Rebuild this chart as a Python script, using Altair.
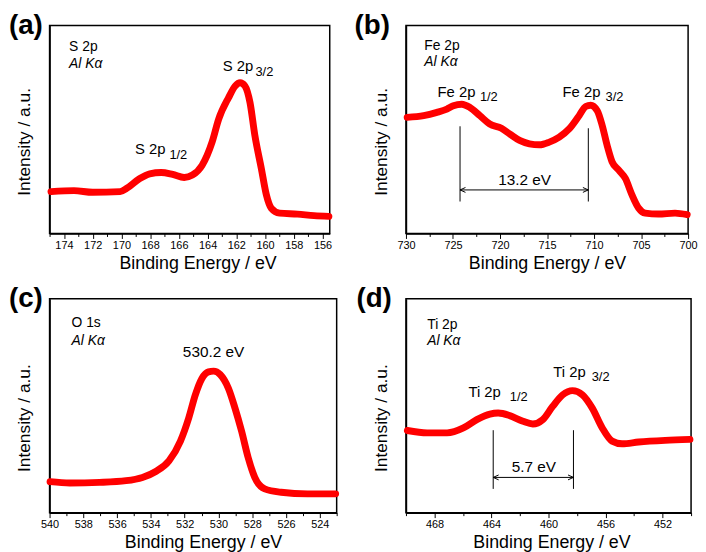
import altair as alt
import pandas as pd

FONT = "Liberation Sans"
RED = "#ff0000"

# ---------------- (a) S 2p ----------------
A_BE = [174.9, 173.3, 172.0, 170.09, 169.63, 168.72, 168.03, 167.23, 166.43, 165.63, 165.06,
        164.38, 163.69, 163.23, 162.54, 162.08, 161.74, 161.40, 161.05, 160.71, 160.26, 159.91,
        159.57, 158.99, 157.74, 156.59, 155.56]
A_INT = [42.3, 43.3, 41.6, 42.3, 45.6, 55.6, 60.3, 61.6, 59.6, 56.6, 59.0,
         69.0, 92.3, 115.6, 137.3, 149.0, 152.3, 149.0, 132.3, 99.0, 65.6, 39.0,
         25.6, 20.6, 19.6, 18.0, 17.3]
A_TICKS = list(range(175, 155, -1))
A_LABELS = [  # x, y, text, size, italic
    (173.64, 184.0, "S 2p", 14, False),
    (173.64, 167.3, "Al Kα", 14, True),
    (169.06, 80.6, "S 2p", 15, False),
    (166.66, 75.6, "1/2", 13, False),
    (162.95, 164.0, "S 2p", 15, False),
    (160.67, 159.0, "3/2", 13, False),
]

# ---------------- (b) Fe 2p ----------------
B_BE = [729.87, 728.12, 726.71, 725.65, 724.96, 724.07, 723.2, 722.14, 721.09, 719.85, 718.98,
        717.92, 716.87, 715.81, 714.76, 713.70, 712.65, 711.59, 710.89, 710.36, 709.66, 709.13,
        708.61, 708.08, 707.37, 706.67, 705.97, 705.26, 704.56, 703.15, 701.39, 700.1]
B_INT = [117.3, 119.0, 122.3, 125.6, 129.0, 130.6, 127.3, 119.0, 110.6, 106.3, 100.6,
         94.0, 90.6, 89.6, 92.3, 97.3, 105.6, 119.0, 128.3, 129.6, 124.0, 109.0,
         89.0, 72.3, 64.0, 55.6, 39.0, 25.6, 20.6, 19.6, 20.6, 19.0]
B_TICKS = [730 - 2.5 * i for i in range(13)]
B_LABELS = [
    (728.05, 185.6, "Fe 2p", 14, False),
    (728.05, 169.0, "Al Kα", 14, True),
    (726.65, 138.0, "Fe 2p", 15, False),
    (722.14, 134.0, "1/2", 13, False),
    (713.35, 138.0, "Fe 2p", 15, False),
    (708.78, 134.0, "3/2", 13, False),
]
B_CENTER_LABELS = [(717.39, 49.3, "13.2 eV", 15.5)]
B_SEGS = [(724.25, 108.3, 724.25, 32.3), (710.61, 106.3, 710.61, 32.3), (724.25, 44.0, 710.61, 44.0)]
B_ARROWS = [(724.25, 44.0, "left"), (710.61, 44.0, "right")]

# ---------------- (c) O 1s ----------------
C_BE = [539.97, 538.8, 537.04, 535.47, 534.5, 533.71, 532.93, 532.25, 531.76, 531.37, 530.98,
        530.59, 530.29, 529.9, 529.41, 529.02, 528.63, 528.24, 527.85, 527.26, 526.29, 524.72, 523.06]
C_INT = [31.3, 30.0, 30.6, 32.3, 35.6, 41.6, 52.3, 72.3, 95.6, 119.0, 135.6,
         142.3, 143.0, 139.6, 125.6, 105.6, 82.3, 55.6, 35.6, 24.0, 20.6, 19.0, 19.0]
C_TICKS = list(range(540, 522, -1))
C_LABELS = [
    (538.7, 187.3, "O 1s", 14, False),
    (538.7, 169.0, "Al Kα", 14, True),
]
C_CENTER_LABELS = [(530.29, 157.3, "530.2 eV", 15.5)]

# ---------------- (d) Ti 2p ----------------
D_BE = [469.9, 468.51, 467.12, 465.97, 465.03, 464.11, 463.53, 462.72, 461.79, 461.1, 460.4,
        459.71, 459.01, 458.32, 457.62, 456.93, 456.23, 455.54, 454.84, 453.68, 451.82, 450.08]
D_INT = [83.0, 80.6, 80.6, 85.6, 94.0, 99.6, 100.6, 98.0, 92.3, 89.6, 94.0,
         107.3, 119.0, 123.3, 119.0, 105.6, 85.6, 72.3, 69.6, 71.3, 73.0, 74.0]
D_TICKS = list(range(470, 449, -2))
D_LABELS = [
    (468.51, 185.6, "Ti 2p", 14, False),
    (468.51, 169.0, "Al Kα", 14, True),
    (465.62, 117.3, "Ti 2p", 15, False),
    (462.72, 113.0, "1/2", 13, False),
    (459.66, 137.3, "Ti 2p", 15, False),
    (456.97, 133.3, "3/2", 13, False),
]
D_CENTER_LABELS = [(461.03, 41.3, "5.7 eV", 15.5)]
D_SEGS = [(463.88, 83.3, 463.88, 24.0), (458.25, 83.3, 458.25, 24.0), (463.88, 35.6, 458.25, 35.6)]
D_ARROWS = [(463.88, 35.6, "left"), (458.25, 35.6, "right")]

ARROW_SHAPES = {"left": "M1,-0.45L0,0L1,0.45", "right": "M-1,-0.45L0,0L-1,0.45"}


def make_panel(be, inten, dom, width, height, ticks, major_test, labels, center_labels,
               segs, arrows, letter, letter_x, xtitle_dx):
    xenc = alt.X(
        "x:Q",
        scale=alt.Scale(domain=dom, reverse=True, nice=False, zero=False),
        axis=alt.Axis(
            title="Binding Energy / eV", values=ticks, format="d",
            labelExpr=f"({major_test}) ? datum.label : ''",
            tickSize={"condition": {"test": major_test, "value": 5}, "value": 3},
            labelOverlap=False, labelFlush=False, grid=False,
            titleX=width / 2 + xtitle_dx, titleY=35, titleBaseline="alphabetic",
            titleFontSize=18,
        ),
    )
    yenc = alt.Y(
        "y:Q",
        scale=alt.Scale(domain=[0, height], nice=False, zero=False),
        axis=alt.Axis(
            title="Intensity / a.u.", labels=False, ticks=False, grid=False,
            titleX=-16, titleY=height / 2 + 12, titleBaseline="bottom",
            titleFontSize=17.5,
        ),
    )
    layers = []
    curve = pd.DataFrame({"x": be, "y": inten})
    layers.append(
        alt.Chart(curve).mark_line(color=RED, strokeWidth=7, interpolate="monotone",
                                   strokeCap="round", strokeJoin="round")
        .encode(x=xenc, y=yenc)
    )
    if segs:
        rows = []
        for i, (x1, y1, x2, y2) in enumerate(segs):
            rows.append({"x": x1, "y": y1, "seg": i})
            rows.append({"x": x2, "y": y2, "seg": i})
        layers.append(
            alt.Chart(pd.DataFrame(rows)).mark_line(color="black", strokeWidth=1)
            .encode(x=xenc, y=yenc, detail="seg:N")
        )
    if arrows:
        adf = pd.DataFrame([{"x": x, "y": y, "shape": ARROW_SHAPES[d]} for x, y, d in arrows])
        layers.append(
            alt.Chart(adf).mark_point(filled=False, stroke="black", strokeWidth=1, size=120, opacity=1)
            .encode(x=xenc, y=yenc, shape=alt.Shape("shape:N", scale=None))
        )
    for x, y, t, size, italic in labels:
        layers.append(
            alt.Chart(pd.DataFrame({"x": [x], "y": [y], "t": [t]}))
            .mark_text(align="left", baseline="alphabetic", font=FONT, fontSize=size,
                       fontStyle="italic" if italic else "normal", color="black")
            .encode(x=xenc, y=yenc, text="t:N")
        )
    for x, y, t, size in center_labels:
        layers.append(
            alt.Chart(pd.DataFrame({"x": [x], "y": [y], "t": [t]}))
            .mark_text(align="center", baseline="alphabetic", font=FONT, fontSize=size, color="black")
            .encode(x=xenc, y=yenc, text="t:N")
        )
    layers.append(
        alt.Chart(pd.DataFrame({"t": [letter]}))
        .mark_text(align="left", baseline="top", font=FONT, fontSize=28, fontWeight="bold", color="black")
        .encode(text="t:N", x=alt.value(letter_x), y=alt.value(-14))
    )
    return alt.layer(*layers).properties(width=width, height=height)


pa = make_panel(A_BE, A_INT, [155.5, 175], 283, 210, A_TICKS, "datum.value % 2 === 0",
                A_LABELS, [], [], [], "(a)", -41, 8)
pb = make_panel(B_BE, B_INT, [700, 730], 285, 210, B_TICKS, "datum.value % 5 === 0",
                B_LABELS, B_CENTER_LABELS, B_SEGS, B_ARROWS, "(b)", -52, 0)
pc = make_panel(C_BE, C_INT, [523, 540], 290, 216, C_TICKS, "datum.value % 2 === 0",
                C_LABELS, C_CENTER_LABELS, [], [], "(c)", -41, 10)
pdd = make_panel(D_BE, D_INT, [450, 470], 288, 216, D_TICKS, "datum.value % 4 === 0",
                 D_LABELS, D_CENTER_LABELS, D_SEGS, D_ARROWS, "(d)", -50, 3)

chart = (
    alt.concat(pa, pb, pc, pdd, columns=2, spacing={"row": 60, "column": 70},
               bounds="flush", align="all")
    .properties(padding=0, background="white")
    .configure_view(stroke="black", strokeWidth=1.5)
    .configure_axis(domainColor="black", domainWidth=1.5, tickColor="black", tickWidth=1,
                    labelFont=FONT, labelFontSize=11, labelColor="black", labelPadding=1,
                    titleFont=FONT, titleFontWeight="normal", titleColor="black")
)

chart.save("out.html", embed_options={"renderer": "svg", "actions": False})
